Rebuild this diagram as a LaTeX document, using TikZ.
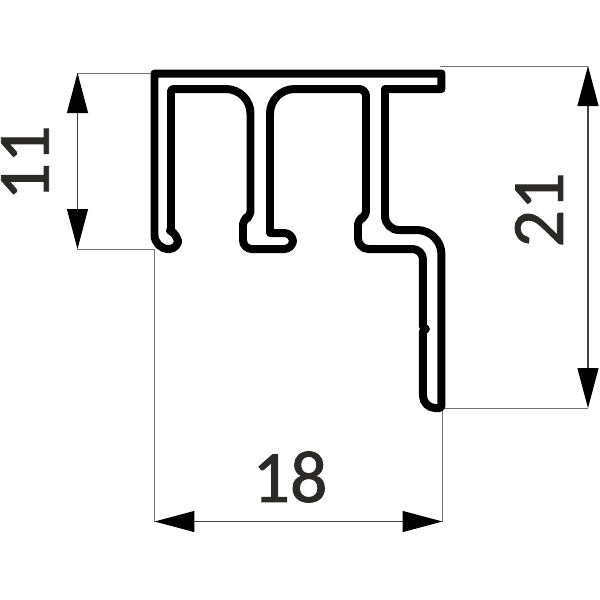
\documentclass[tikz,border=0pt]{standalone}
\usepackage{fontspec}
\setmainfont[FakeBold=1.2]{Carlito}
\usetikzlibrary{arrows.meta}
\definecolor{dimtext}{HTML}{2B2A29}
\begin{document}
\begin{tikzpicture}[
                x=0.02cm,y=-0.02cm,
                profile/.style={draw=black,line width=0.16cm,line join=round,line cap=round},
                extline/.style={draw=black!55,line width=0.02cm},
                dimline/.style={{Triangle[length=0.8cm,width=0.42cm,fill=black,color=black]}-{Triangle[length=0.8cm,width=0.42cm,fill=black,color=black]},draw=black!75,line width=0.022cm},
                dimlabel/.style={text=dimtext,font=\fontsize{42}{42}\selectfont,inner sep=0pt},
            ]

            \useasboundingbox (0,0) rectangle (600,600);

            % extension line end points
            \coordinate (lefttop) at (154,73);
            \coordinate (leftbottom) at (154.5,249);
            \coordinate (rightend) at (442.5,408);
            \coordinate (righttop) at (440,66);
            \coordinate (a11) at (77.5,73);
            \coordinate (b11) at (77.5,249);
            \coordinate (a18) at (154.5,521.5);
            \coordinate (b18) at (442.5,521.5);
            \coordinate (a21) at (588,66);
            \coordinate (b21) at (588,408);

            \draw[extline] (lefttop) -- (a11);
            \draw[extline] (leftbottom) -- (b11);
            \draw[extline] (leftbottom) -- (a18);
            \draw[extline] (rightend) -- (b18);
            \draw[extline] (righttop) -- (a21);
            \draw[extline] (rightend) -- (b21);

            \draw[dimline] (a11) -- (b11);
            \draw[dimline] (a18) -- (b18);
            \draw[dimline] (a21) -- (b21);

            \node[dimlabel,rotate=90] (label11) at (25,163) {11};
            \node[dimlabel] (label18) at (290,477) {18};
            \node[dimlabel,rotate=90] (label21) at (539,210) {21};

            % section outline
            \draw[profile] (154.5,73.5) -- (441.5,73.5) -- (441.5,89) -- (385,89)
                [rounded corners=8] -- (385,230)
                [rounded corners=14] -- (441.5,230)
                [rounded corners=1] -- (441.5,408)
                [rounded corners=7] -- (423,408)
                [rounded corners=0] -- (423,331) -- (426,329) -- (423,327)
                [rounded corners=6] -- (423,249) -- (358,249)
                [rounded corners=3] -- (358,219) -- (366,217)
                [rounded corners=4] -- (366,89)
                [rounded corners=14] -- (270,89)
                [rounded corners=0] -- (270,233)
                [rounded corners=5] -- (293,233) -- (293,249) -- (243,249)
                [rounded corners=3] -- (243,219) -- (250.5,217)
                [rounded corners=14] -- (250.5,89)
                [rounded corners=1] -- (171,89)
                [rounded corners=0] -- (171,231)
                [rounded corners=5] -- (178,234) -- (178,249)
                [rounded corners=8] -- (154.5,249)
                [rounded corners=0] -- cycle;
        \end{tikzpicture}
\end{document}
